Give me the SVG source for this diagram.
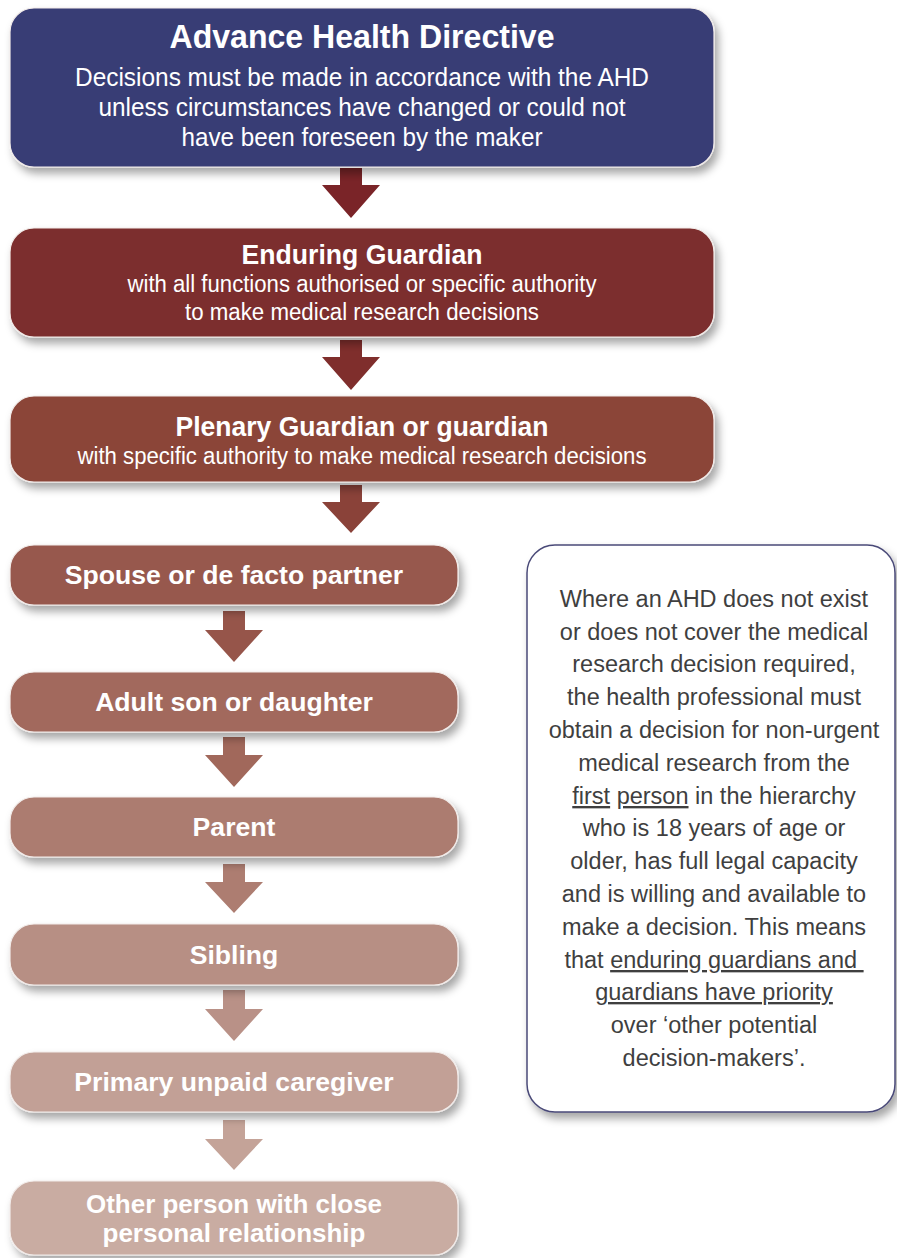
<svg xmlns="http://www.w3.org/2000/svg" width="897" height="1258" viewBox="0 0 897 1258">
  <defs>
    <filter id="sh" x="-10%" y="-20%" width="125%" height="160%">
      <feDropShadow dx="4" dy="6" stdDeviation="4" flood-color="#000" flood-opacity="0.35"/>
    </filter>
    <style>
      .box { stroke: #f2ecea; stroke-width: 1.2; filter: url(#sh); }
      .t { font-family: "Liberation Sans", Arial, sans-serif; fill: #ffffff; text-anchor: middle; }
      .b { font-weight: bold; }
      .r { font-family: "Liberation Sans", Arial, sans-serif; fill: #3f3f3f; text-anchor: middle; font-size: 23.5px; }
      .u { text-decoration: underline; }
    </style>
  </defs>
  <rect width="897" height="1258" fill="#ffffff"/>

  <g id="connectors">
    <polygon points="340,168 362,168 362,185 380,185 351,218 322,185 340,185" fill="#7a2428"/>
    <polygon points="340,340 362,340 362,357 380,357 351,390 322,357 340,357" fill="#7f2e2c"/>
    <polygon points="340,485 362,485 362,502 380,502 351,533 322,502 340,502" fill="#8a4239"/>
    <polygon points="223,611 245,611 245,630 263,630 234,662 205,630 223,630" fill="#96554a"/>
    <polygon points="223,737 245,737 245,755 263,755 234,787 205,755 223,755" fill="#a1685b"/>
    <polygon points="223,864 245,864 245,882 263,882 234,913 205,882 223,882" fill="#ad7d71"/>
    <polygon points="223,990 245,990 245,1009 263,1009 234,1041 205,1009 223,1009" fill="#b99187"/>
    <polygon points="223,1120 245,1120 245,1139 263,1139 234,1170 205,1139 223,1139" fill="#c4a398"/>
  </g>

  <g id="node-ahd">
    <rect class="box" x="10" y="8" width="704" height="159" rx="24" fill="#393c74"/>
    <text class="t b" x="362" y="48" font-size="34" textLength="385" lengthAdjust="spacingAndGlyphs">Advance Health Directive</text>
    <text class="t" x="362" y="86" font-size="26" textLength="574" lengthAdjust="spacingAndGlyphs">Decisions must be made in accordance with the AHD</text>
    <text class="t" x="362" y="116" font-size="26" textLength="527" lengthAdjust="spacingAndGlyphs">unless circumstances have changed or could not</text>
    <text class="t" x="362" y="146" font-size="26" textLength="361" lengthAdjust="spacingAndGlyphs">have been foreseen by the maker</text>
  </g>

  <g id="node-enduring">
    <rect class="box" x="10" y="228" width="704" height="109" rx="24" fill="#7c2f2d"/>
    <text class="t b" x="362" y="264" font-size="28" textLength="241" lengthAdjust="spacingAndGlyphs">Enduring Guardian</text>
    <text class="t" x="362" y="292" font-size="23.5" textLength="469" lengthAdjust="spacingAndGlyphs">with all functions authorised or specific authority</text>
    <text class="t" x="362" y="320" font-size="23.5" textLength="354" lengthAdjust="spacingAndGlyphs">to make medical research decisions</text>
  </g>

  <g id="node-plenary">
    <rect class="box" x="10" y="396" width="704" height="86" rx="24" fill="#8b4539"/>
    <text class="t b" x="362" y="436" font-size="28" textLength="373" lengthAdjust="spacingAndGlyphs">Plenary Guardian or guardian</text>
    <text class="t" x="362" y="464" font-size="23.5" textLength="569" lengthAdjust="spacingAndGlyphs">with specific authority to make medical research decisions</text>
  </g>

  <g id="node-spouse">
    <rect class="box" x="10" y="545" width="448" height="60" rx="24" fill="#97594e"/>
    <text class="t b" x="234" y="584" font-size="26.6">Spouse or de facto partner</text>
  </g>

  <g id="node-adult">
    <rect class="box" x="10" y="672" width="448" height="60" rx="24" fill="#a2695d"/>
    <text class="t b" x="234" y="711" font-size="26.6">Adult son or daughter</text>
  </g>

  <g id="node-parent">
    <rect class="box" x="10" y="797" width="448" height="60" rx="24" fill="#ac7c70"/>
    <text class="t b" x="234" y="836" font-size="26.6">Parent</text>
  </g>

  <g id="node-sibling">
    <rect class="box" x="10" y="924" width="448" height="61" rx="24" fill="#b78f84"/>
    <text class="t b" x="234" y="964" font-size="26.6">Sibling</text>
  </g>

  <g id="node-caregiver">
    <rect class="box" x="10" y="1052" width="448" height="60" rx="24" fill="#c2a096"/>
    <text class="t b" x="234" y="1091" font-size="26.6">Primary unpaid caregiver</text>
  </g>

  <g id="node-other">
    <rect class="box" x="10" y="1181" width="448" height="74" rx="24" fill="#c9aca2"/>
    <text class="t b" x="234" y="1213" font-size="26">Other person with close</text>
    <text class="t b" x="234" y="1242" font-size="26">personal relationship</text>
  </g>

  <g id="node-note">
    <rect x="527" y="545" width="368" height="567" rx="28" fill="#ffffff" stroke="#4a4a78" stroke-width="1.5" filter="url(#sh)"/>
    <text class="r" x="714" y="607">Where an AHD does not exist</text>
    <text class="r" x="714" y="640">or does not cover the medical</text>
    <text class="r" x="714" y="672">research decision required,</text>
    <text class="r" x="714" y="705">the health professional must</text>
    <text class="r" x="714" y="738">obtain a decision for non-urgent</text>
    <text class="r" x="714" y="771">medical research from the</text>
    <text class="r" x="714" y="804"><tspan class="u">first</tspan> <tspan class="u">person</tspan> in the hierarchy</text>
    <text class="r" x="714" y="836">who is 18 years of age or</text>
    <text class="r" x="714" y="869">older, has full legal capacity</text>
    <text class="r" x="714" y="902">and is willing and available to</text>
    <text class="r" x="714" y="935">make a decision. This means</text>
    <text class="r" x="714" y="968" style="white-space:pre">that <tspan class="u">enduring guardians and </tspan></text>
    <text class="r" x="714" y="1000"><tspan class="u">guardians have priority</tspan></text>
    <text class="r" x="714" y="1033">over ‘other potential</text>
    <text class="r" x="714" y="1066">decision-makers’.</text>
  </g>
</svg>
